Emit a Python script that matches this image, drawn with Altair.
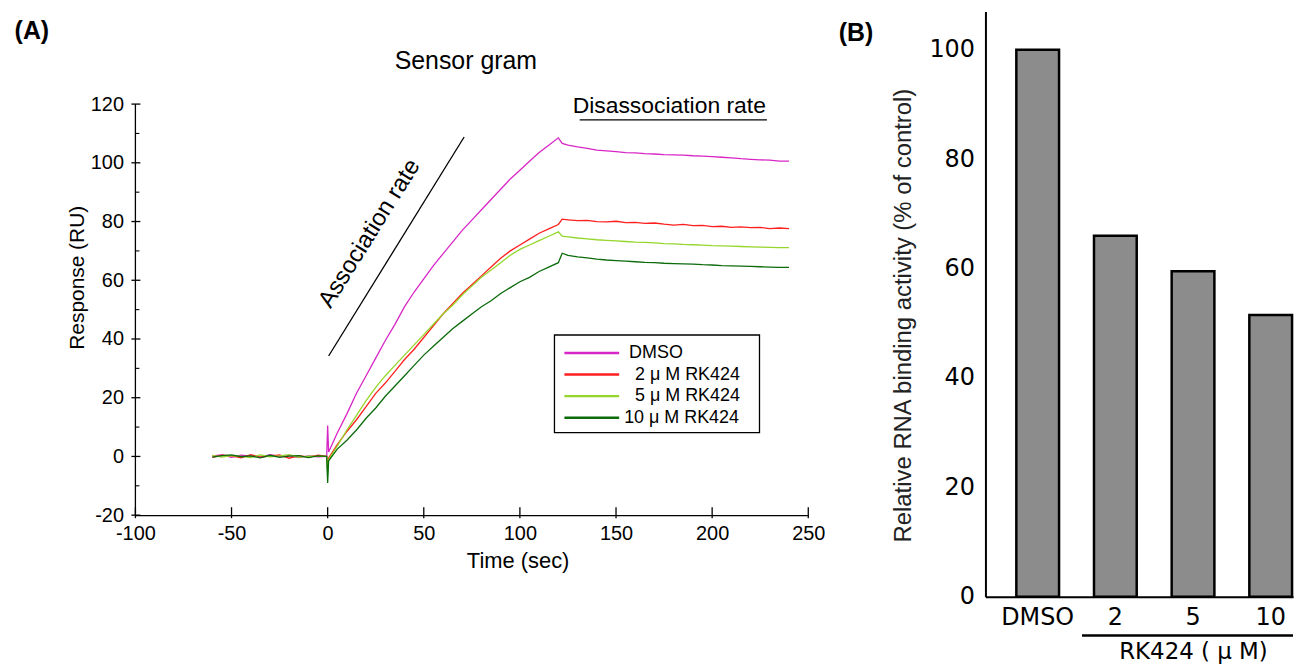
import altair as alt
import pandas as pd

# ---------------- Panel A data (sensorgram) ----------------
time_s = [-60, -55, -50, -45, -40, -35, -30, -25, -20, -15, -10, -5, -0.5, 0, 0.5,
          5, 10, 15, 20, 25, 30, 35, 40, 45, 50, 55, 60, 65, 70, 75, 80, 85, 90, 95,
          100, 105, 110, 115, 120, 122,
          125, 130, 135, 140, 145, 150, 155, 160, 165, 170, 175, 180, 185, 190, 195,
          200, 205, 210, 215, 220, 225, 230, 235, 240]

dmso = [0.2, 0.5, -0.3, 0.4, 0.1, -0.2, 0.6, 0.0, 0.3, -0.4, 0.2, -0.1, 0.0, 10.5, 1.5,
        8, 14.5, 21.5, 27.5, 33.5, 39.5, 45, 51, 56, 60.5, 65, 69, 73, 77, 80.5, 84, 87.5,
        91, 94.5, 97.5, 100.5, 103.5, 106, 108.5, 106.6,
        106.0, 105.4, 104.9, 104.3, 104.1, 103.8, 103.5, 103.4, 103.1, 103.0, 102.8, 102.7,
        102.6, 102.4, 102.3, 102.1, 101.9, 101.7, 101.4, 101.2, 101.0, 100.9, 100.6, 100.6]

rk2 = [-0.3, 0.4, 0.2, -0.5, 0.6, -0.2, 0.1, 0.5, -0.6, 0.3, -0.2, 0.4, 0.0, -4.0, -0.5,
       4, 8.5, 12.5, 17, 21.5, 25, 29, 33, 36.5, 40.5, 44.5, 48.5, 52, 55.5, 58.5, 61.5,
       64.5, 67.5, 70, 72, 74, 76, 77.5, 79, 80.8,
       80.6, 80.3, 80.4, 80.0, 79.9, 80.1, 79.6, 79.7, 79.4, 79.5, 79.1, 78.8, 79.0, 78.6,
       78.7, 78.3, 78.4, 78.0, 78.2, 77.9, 78.0, 77.6, 77.8, 77.6]

rk5 = [0.4, -0.2, 0.3, 0.0, -0.4, 0.5, -0.1, 0.2, 0.6, -0.3, 0.1, 0.0, 0.0, -6.0, -1.0,
       3.5, 9, 14, 19, 23.5, 27.5, 31, 34.5, 38, 41.5, 45, 48.5, 51.5, 55, 58, 61, 63.5,
       66, 68.5, 70.5, 72, 73.5, 75, 76.5, 75.0,
       74.8, 74.4, 74.1, 73.8, 73.6, 73.4, 73.2, 73.0, 72.9, 72.7, 72.5, 72.4, 72.2, 72.1,
       72.0, 71.8, 71.7, 71.6, 71.5, 71.4, 71.3, 71.2, 71.1, 71.1]

rk10 = [-0.2, 0.3, 0.5, -0.1, 0.2, -0.5, 0.4, -0.3, 0.1, 0.3, -0.4, 0.2, 0.0, -9.0, -1.5,
        2.5, 5.5, 9, 13, 16.5, 20.5, 24, 27.5, 31, 34.5, 37.5, 40.5, 43.5, 46, 48.5, 51,
        53, 55.5, 57.5, 59.5, 61, 63, 64.5, 66, 69.2,
        68.5, 68.0, 67.6, 67.2, 66.9, 66.7, 66.5, 66.3, 66.1, 66.0, 65.8, 65.7, 65.6, 65.5,
        65.3, 65.2, 65.0, 64.9, 64.8, 64.7, 64.6, 64.5, 64.4, 64.4]

series_labels = ["DMSO", "2 \u03bc M RK424", "5 \u03bc M RK424", "10 \u03bc M RK424"]
series_colors = ["#d826c6", "#ff1f1f", "#94d62a", "#0b6b0b"]

x_tick_values = [-100, -50, 0, 50, 100, 150, 200, 250]
y_tick_values = [-20, 0, 20, 40, 60, 80, 100, 120]
y_minor_values = [-10, 10, 30, 50, 70, 90, 110]

# ---------------- Panel B data (bar chart) ----------------
conditions = ["DMSO", "2", "5", "10"]
activity = [100, 66, 59.5, 51.5]
b_tick_values = [0, 20, 40, 60, 80, 100]

FA = "Liberation Sans"
FB = "DejaVu Sans"

# panel A: the plot group starts at the top of panel B's axis; the axis itself
# covers only the lower 413 px (-20 .. 120)
WA, HA = 676, 506
PX_PER_RU = 413 / 140.0
Y_TOP = -20 + HA / PX_PER_RU
TOP_OFF = HA - 413  # y of the value 120 inside the group

WB, HB = 309, 588

rows = []
for lab, vals in zip(series_labels, [dmso, rk2, rk5, rk10]):
    for i, (t, v) in enumerate(zip(time_s, vals)):
        rows.append({"time": t, "response": v, "series": lab, "idx": i})
dfA = pd.DataFrame(rows)
one = pd.DataFrame({"a": [0]})

X = alt.X("time:Q",
          scale=alt.Scale(domain=[-100, 250], nice=False, zero=False),
          axis=alt.Axis(values=x_tick_values, ticks=False, grid=False, labelFlush=False,
                        labelOverlap=False, labelExpr="datum.value + ''",
                        labelFontSize=20, labelFont=FA, labelColor="black", labelPadding=8,
                        domainColor="black", domainWidth=1.3,
                        title="Time (sec)", titleFontSize=22, titleFont=FA,
                        titleFontWeight="normal", titleColor="black", titlePadding=8,
                        titleX=384))
Y = alt.Y("response:Q",
          scale=alt.Scale(domain=[-20, Y_TOP], nice=False, zero=False),
          axis=alt.Axis(values=y_tick_values, ticks=False, grid=False, labelFlush=False,
                        labelOverlap=False, labelExpr="datum.value + ''", domain=False,
                        labelFontSize=20, labelFont=FA, labelColor="black", labelPadding=12,
                        title="Response (RU)", titleFontSize=21, titleFont=FA,
                        titleFontWeight="normal", titleColor="black", titlePadding=3,
                        titleY=267))
C = alt.Color("series:N", scale=alt.Scale(domain=series_labels, range=series_colors), legend=None)

lines = alt.Chart(dfA).mark_line(strokeWidth=1.3).encode(x=X, y=Y, color=C, order="idx:Q")

y_axis_line = alt.Chart(pd.DataFrame({"response": [-20], "r2": [120]})).mark_rule(
    color="black", strokeWidth=1.3).encode(x=alt.value(0), y=Y, y2=alt.Y2("r2"))
xticks = alt.Chart(pd.DataFrame({"time": x_tick_values})).mark_rule(
    color="black", strokeWidth=1.3).encode(x=X, y=alt.value(HA - 8), y2=alt.value(HA + 3))
ymaj = alt.Chart(pd.DataFrame({"response": y_tick_values})).mark_rule(
    color="black", strokeWidth=1.3).encode(y=Y, x=alt.value(-4), x2=alt.value(5))
ymin = alt.Chart(pd.DataFrame({"response": y_minor_values})).mark_rule(
    color="black", strokeWidth=1.1).encode(y=Y, x=alt.value(0), x2=alt.value(4))

assoc_line = alt.Chart(pd.DataFrame({"time": [0.5, 71], "response": [34.2, 108.8]})).mark_line(
    color="black", strokeWidth=1.3).encode(x=X, y=Y)
assoc_text = alt.Chart(pd.DataFrame({"time": [21.8], "response": [75.9], "label": ["Association rate"]})).mark_text(
    angle=302, fontSize=24, font=FA, color="black").encode(x=X, y=Y, text="label:N")
dis_line = alt.Chart(pd.DataFrame({"time": [131.1, 228.5], "response": [114.6, 114.6]})).mark_line(
    color="black", strokeWidth=1.3).encode(x=X, y=Y)
dis_text = alt.Chart(pd.DataFrame({"time": [177.7], "response": [119.2], "label": ["Disassociation rate"]})).mark_text(
    fontSize=23, font=FA, color="black").encode(x=X, y=Y, text="label:N")

legend_layers = [alt.Chart(one).mark_rect(fill="white", stroke="black", strokeWidth=1.3).encode(
    x=alt.value(421), x2=alt.value(627), y=alt.value(TOP_OFF + 232), y2=alt.value(TOP_OFF + 330))]
label_x = [496, 502, 502, 491]
for i, (lab, col) in enumerate(zip(series_labels, series_colors)):
    yy = TOP_OFF + 250 + i * 21.7
    legend_layers.append(alt.Chart(one).mark_rule(color=col, strokeWidth=2.5).encode(
        x=alt.value(431), x2=alt.value(486), y=alt.value(yy)))
    legend_layers.append(alt.Chart(one).mark_text(align="left", baseline="middle", fontSize=18,
                                                  font=FA, color="black").encode(
        x=alt.value(label_x[i]), y=alt.value(yy), text=alt.value(lab)))

title_a = alt.Chart(one).mark_text(fontSize=25, font=FA, color="black").encode(
    x=alt.value(332), y=alt.value(TOP_OFF - 43), text=alt.value("Sensor gram"))
label_a = alt.Chart(one).mark_text(fontSize=25, font=FA, fontWeight="bold", color="black").encode(
    x=alt.value(-104), y=alt.value(TOP_OFF - 73), text=alt.value("(A)"))
pin_a = alt.Chart(one).mark_rule(opacity=0).encode(
    x=alt.value(-128), x2=alt.value(694), y=alt.value(0))

panel_a = alt.layer(lines, y_axis_line, xticks, ymaj, ymin, assoc_line, assoc_text, dis_line,
                    dis_text, *legend_layers, title_a, label_a, pin_a).properties(width=WA, height=HA)

# ---------------- Panel B ----------------
dfB = pd.DataFrame({"cond": conditions, "activity": activity})
XB = alt.X("cond:N", sort=conditions,
           scale=alt.Scale(paddingInner=0.45, paddingOuter=0.205, align=0.97),
           axis=alt.Axis(title=None, labelAngle=0, ticks=False, labelFontSize=24, labelFont=FB,
                         labelColor="black", labelPadding=9, domainColor="black", domainWidth=2))
YB = alt.Y("activity:Q", scale=alt.Scale(domain=[0, 107], nice=False),
           axis=alt.Axis(values=b_tick_values, ticks=False, grid=False, labelFontSize=24,
                         labelFont=FB, labelColor="black", labelPadding=11,
                         domainColor="black", domainWidth=2,
                         title="Relative RNA binding activity (% of control)",
                         titleFontSize=24, titleFont=FA, titleFontWeight="normal",
                         titleColor="#222222", titlePadding=13, titleY=305))
bars = alt.Chart(dfB).mark_bar(fill="#8c8c8c", stroke="black", strokeWidth=2.5).encode(x=XB, y=YB)
under = alt.Chart(one).mark_rule(color="black", strokeWidth=2.5).encode(
    x=alt.value(97), x2=alt.value(WB), y=alt.value(627))
rk_text = alt.Chart(one).mark_text(fontSize=23, font=FB, color="black").encode(
    x=alt.value(209), y=alt.value(644), text=alt.value("RK424 ( \u03bc M)"))
label_b = alt.Chart(one).mark_text(fontSize=25, font=FA, fontWeight="bold", color="black").encode(
    x=alt.value(-130), y=alt.value(22), text=alt.value("(B)"))
pin_b = alt.Chart(one).mark_rule(opacity=0).encode(
    x=alt.value(-153), x2=alt.value(0), y=alt.value(0))

panel_b = alt.layer(bars, under, rk_text, label_b, pin_b).properties(width=WB, height=HB)

chart = alt.hconcat(panel_a, panel_b, spacing=7).properties(
    padding={"left": 0, "top": 2, "right": 0, "bottom": 0}
).configure_view(stroke=None)

chart.save("out.html", embed_options={"renderer": "svg", "actions": False})
